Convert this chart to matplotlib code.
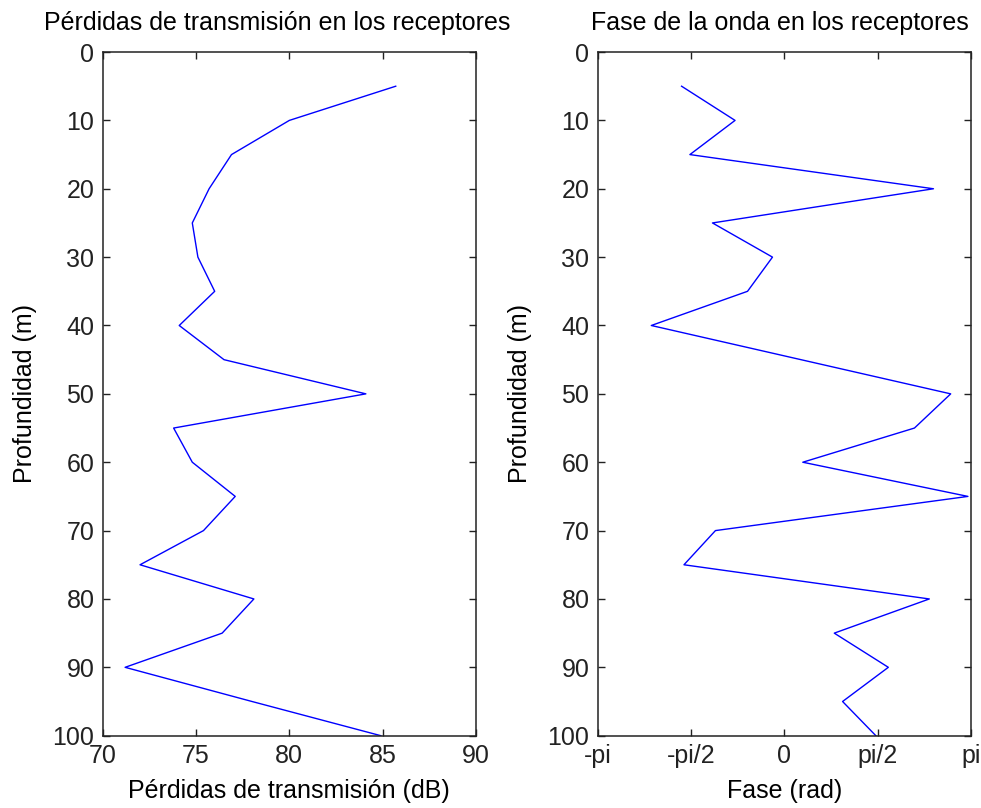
import numpy as np
import matplotlib
matplotlib.use('Agg')
import matplotlib.pyplot as plt

plt.rcParams['font.family'] = ['Liberation Sans', 'DejaVu Sans']

# Profundidad de los receptores (m)
profundidad = [5, 10, 15, 20, 25, 30, 35, 40, 45, 50,
               55, 60, 65, 70, 75, 80, 85, 90, 95, 100]

# Perdidas de transmision (dB)
perdidas = [85.7, 80.0, 76.9, 75.7, 74.8, 75.1, 76.0, 74.1, 76.5, 84.1,
            73.8, 74.8, 77.1, 75.4, 72.0, 78.1, 76.4, 71.2, 78.0, 84.9]

# Fase de la onda (rad)
fase = [-1.73, -0.83, -1.59, 2.51, -1.21, -0.20, -0.62, -2.24, 0.28, 2.80,
        2.19, 0.31, 3.09, -1.16, -1.69, 2.44, 0.84, 1.75, 0.98, 1.54]

ticks_perdidas = [70, 75, 80, 85, 90]
ticks_fase = [-np.pi, -np.pi / 2, 0, np.pi / 2, np.pi]
etiquetas_fase = ['-pi', '-pi/2', '0', 'pi/2', 'pi']
ticks_prof = list(range(0, 101, 10))

fig = plt.figure(figsize=(9.81, 8.08), dpi=100)
ax1 = fig.add_axes([0.1047, 0.0895, 0.3805, 0.8461])
ax2 = fig.add_axes([0.6093, 0.0895, 0.3805, 0.8461])

fs_tick = 18
fs_lab = 18

def estilo(ax):
    ax.set_ylim(100, 0)
    ax.set_yticks(ticks_prof)
    ax.tick_params(direction='in', length=5, width=1, top=True, right=True,
                   labelsize=fs_tick, pad=6, colors='#222222')
    for s in ax.spines.values():
        s.set_linewidth(1.1)
        s.set_color('#222222')
    ax.set_ylabel('Profundidad (m)', fontsize=fs_lab, labelpad=11)

# Subplot izquierdo
ax1.plot(perdidas, profundidad, color='#0000ff', lw=1.0)
ax1.set_xlim(70, 90)
ax1.set_xticks(ticks_perdidas)
estilo(ax1)
ax1.set_xlabel('Pérdidas de transmisión (dB)', fontsize=fs_lab, labelpad=8)
ax1.set_title('Pérdidas de transmisión en los receptores', fontsize=fs_lab,
              pad=16, x=0.468)

# Subplot derecho
ax2.plot(fase, profundidad, color='#0000ff', lw=1.0)
ax2.set_xlim(-np.pi, np.pi)
ax2.set_xticks(ticks_fase)
ax2.set_xticklabels(etiquetas_fase)
estilo(ax2)
ax2.set_xlabel('Fase (rad)', fontsize=fs_lab, labelpad=8)
ax2.set_title('Fase de la onda en los receptores', fontsize=fs_lab,
              pad=16, x=0.487)

fig.savefig('out.png', dpi=100)
